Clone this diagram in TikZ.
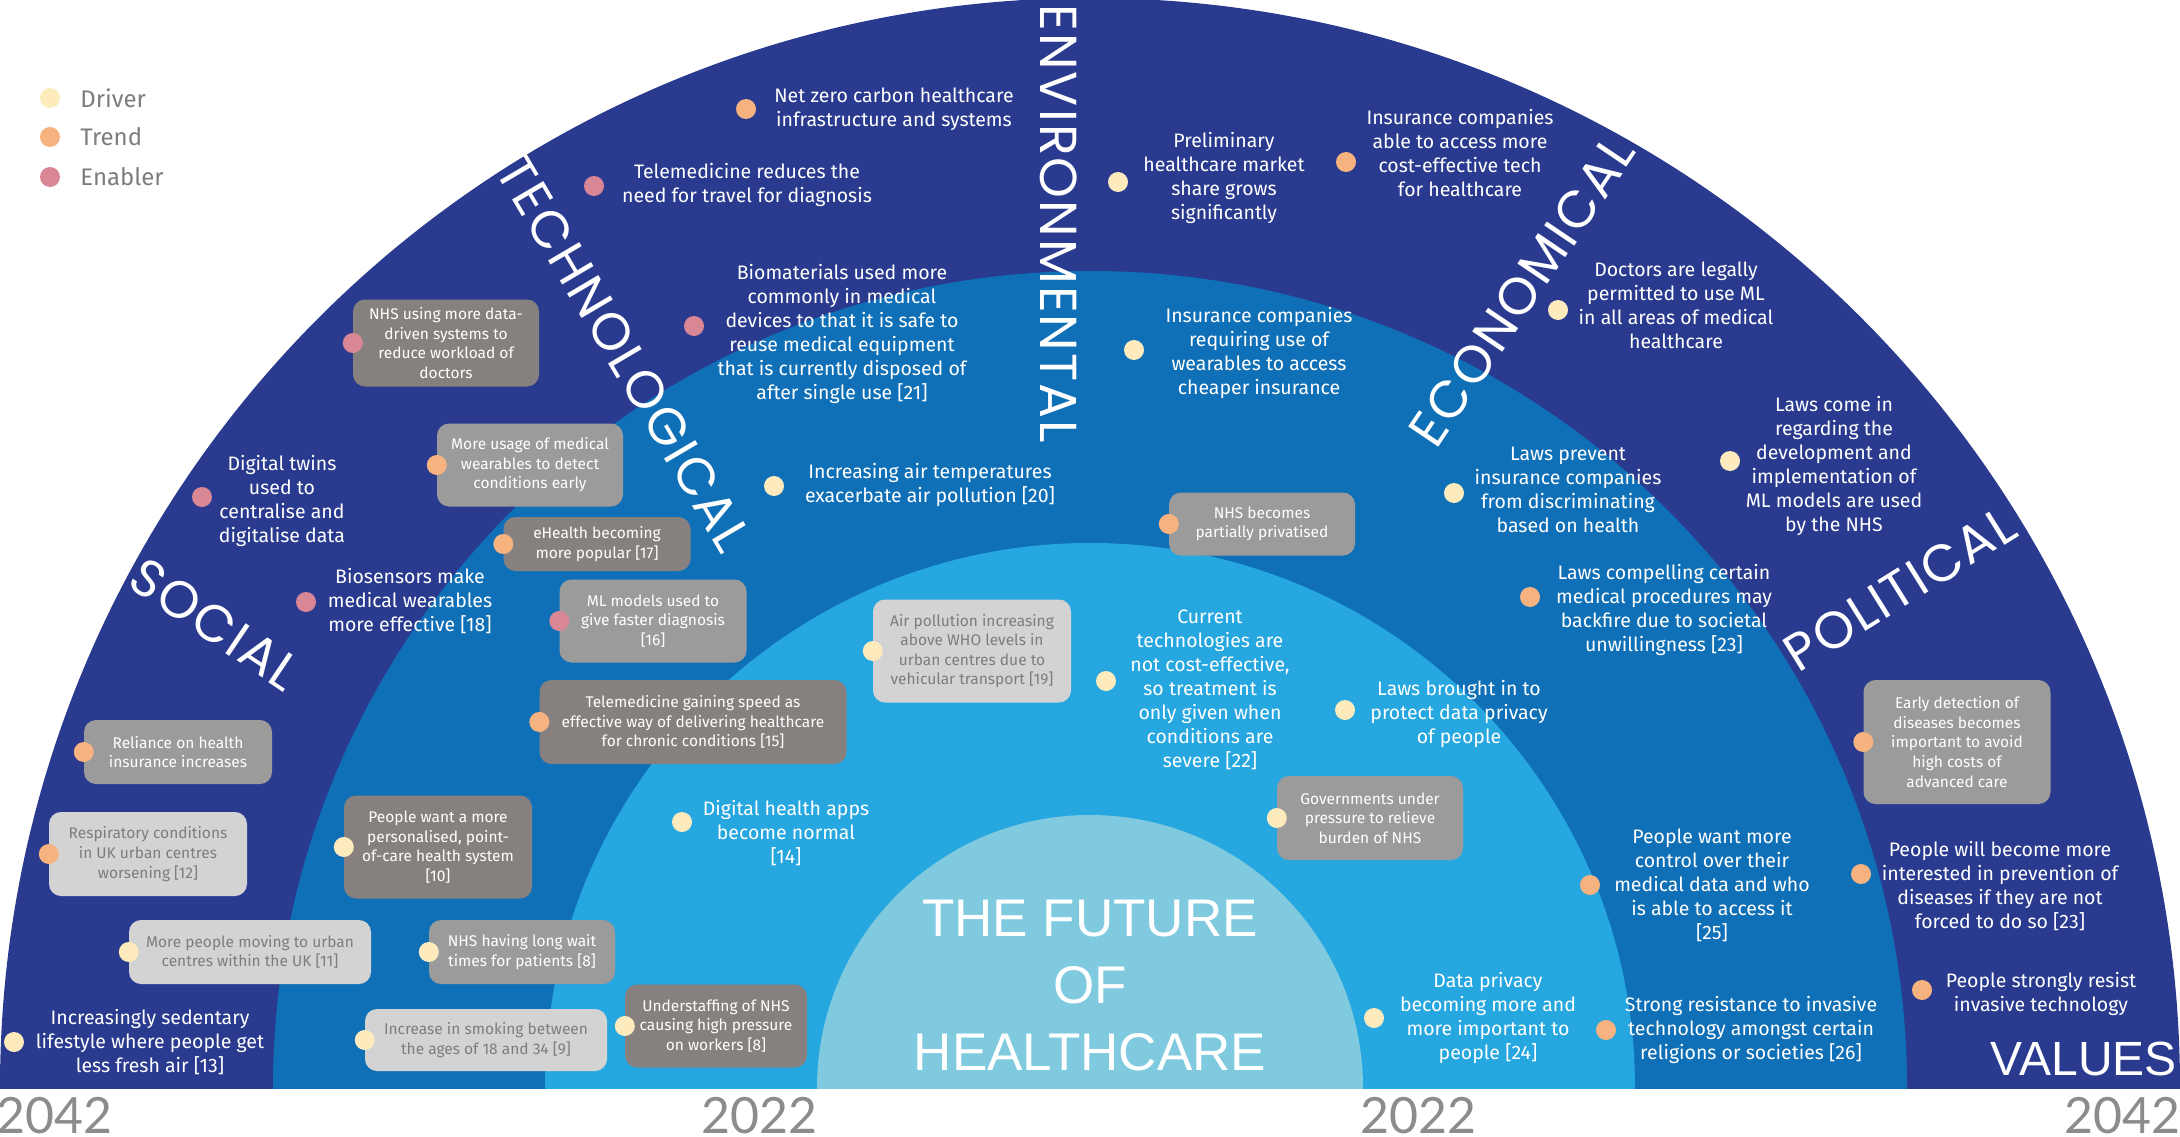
\documentclass[tikz,border=0pt]{standalone}
\usepackage{fontspec}
\setmainfont{Fira Sans}
\newfontfamily\headfont[LetterSpace=4]{Poppins}
\newfontfamily\bigfont{Liberation Sans}
\newfontfamily\yearfont{Lato}
\usetikzlibrary{positioning}
\definecolor{navy}{HTML}{2A3B8F}
\definecolor{midblue}{HTML}{1070B7}
\definecolor{skyblue}{HTML}{26A7DF}
\definecolor{paleblue}{HTML}{80CAE0}
\definecolor{drivercol}{HTML}{FDEBBE}
\definecolor{trendcol}{HTML}{F6B27F}
\definecolor{enablercol}{HTML}{DA8795}
\definecolor{boxdark}{HTML}{86817F}
\definecolor{boxmid}{HTML}{9C9B9B}
\definecolor{boxlight}{HTML}{D3D3D3}
\definecolor{muted}{HTML}{7D7D7D}
\definecolor{yeargrey}{HTML}{8C8C8C}

\begin{document}
\begin{tikzpicture}[x=1pt, y=-1pt,
    dot/.style={circle, inner sep=0pt, minimum size=20pt},
    driver/.style={dot, fill=drivercol},
    trend/.style={dot, fill=trendcol},
    enabler/.style={dot, fill=enablercol},
    txt/.style={text=white, align=center, inner sep=0pt, font=\fontsize{19.5}{24}\selectfont},
    card/.style={rounded corners=12pt, align=center, inner sep=0pt, font=\fontsize{15.5}{19.6}\selectfont},
    darkcard/.style={card, fill=boxdark, text=white},
    midcard/.style={card, fill=boxmid, text=white},
    lightcard/.style={card, fill=boxlight, text=muted},
    sector/.style={text=white, inner sep=0pt, font=\headfont\fontsize{52}{52}\selectfont},
    year/.style={text=yeargrey, inner sep=0pt, font=\yearfont\fontsize{50}{50}\selectfont}]
  \useasboundingbox (0,0) rectangle (2180,1137);

  % rings, outer to inner
  \begin{scope}
    \clip (0,0) rectangle (2180,1088);
    \fill[navy]     (1090,1088) circle[radius=1090pt];
    \fill[midblue]  (1090,1088) circle[radius=817pt];
    \fill[skyblue]  (1090,1088) circle[radius=545pt];
    \fill[paleblue] (1090,1088) circle[radius=273pt];
  \end{scope}

  % legend
  \node[driver]  (lg1) at (50,98)  {};
  \node[trend]   (lg2) at (50,137) {};
  \node[enabler] (lg3) at (50,177) {};
  \node[right=20pt of lg1, inner sep=0pt, text=muted, font=\fontsize{24}{24}\selectfont] (lgt1) {Driver};
  \node[right=20pt of lg2, inner sep=0pt, text=muted, font=\fontsize{24}{24}\selectfont] (lgt2) {Trend};
  \node[right=20pt of lg3, inner sep=0pt, text=muted, font=\fontsize{24}{24}\selectfont] (lgt3) {Enabler};

  % sector names
  \node[sector, rotate=-34]   (social)  at (215,624)  {SOCIAL};
  \node[sector, rotate=-59.5] (techno)  at (624,354)  {TECHNOLOGICAL};
  \node[sector, rotate=-90]   (enviro)  at (1059,224) {ENVIRONMENTAL};
  \node[sector, rotate=56]    (econ)    at (1522,291) {ECONOMICAL};
  \node[sector, rotate=32]    (politic) at (1900,589) {POLITICAL};
  \node[text=white, inner sep=0pt, anchor=east, font=\bigfont\fontsize{48}{48}\selectfont] (values) at (2177,1059) {VALUES};

  \node[text=white, align=center, inner sep=0pt, font=\bigfont\fontsize{53}{67}\selectfont] (title) at (1090,986) {THE FUTURE\\OF\\HEALTHCARE};

  % years
  \node[year] (y1) at (55,1116)   {2042};
  \node[year] (y2) at (759,1116)  {2022};
  \node[year] (y3) at (1418,1116) {2022};
  \node[year] (y4) at (2122,1116) {2042};

  % free text items
  \node[txt] (netzero) at (894,109) {Net zero carbon healthcare\\infrastructure and systems};
  \node[trend] (d-netzero) at (746,109) {};
  \node[txt] (telered) at (747,185) {Telemedicine reduces the\\need for travel for diagnosis};
  \node[enabler] (d-telered) at (594,186) {};
  \node[txt] (biomat) at (842,334) {Biomaterials used more\\commonly in medical\\devices to that it is safe to\\reuse medical equipment\\that is currently disposed of\\after single use [21]};
  \node[enabler] (d-biomat) at (694,326) {};
  \node[txt] (twins) at (282,501) {Digital twins\\used to\\centralise and\\digitalise data};
  \node[enabler] (d-twins) at (202,497) {};
  \node[txt] (biosens) at (410,601) {Biosensors make\\medical wearables\\more effective [18]};
  \node[enabler] (d-biosens) at (306,602) {};
  \node[txt] (airtemp) at (930,485) {Increasing air temperatures\\exacerbate air pollution [20]};
  \node[driver] (d-airtemp) at (774,486) {};
  \node[txt] (apps) at (786,833) {Digital health apps\\become normal\\{}[14]};
  \node[driver] (d-apps) at (682,822) {};
  \node[txt] (sedent) at (150,1042) {Increasingly sedentary\\lifestyle where people get\\less fresh air [13]};
  \node[driver] (d-sedent) at (14,1042) {};
  \node[txt] (prelim) at (1224,178) {Preliminary\\healthcare market\\share grows\\significantly};
  \node[driver] (d-prelim) at (1118,182) {};
  \node[txt] (insable) at (1460,153) {Insurance companies\\able to access more\\cost-effective tech\\for healthcare};
  \node[trend] (d-insable) at (1346,162) {};
  \node[txt] (insreq) at (1259,353) {Insurance companies\\requiring use of\\wearables to access\\cheaper insurance};
  \node[driver] (d-insreq) at (1134,350) {};
  \node[txt] (doctors) at (1676,305) {Doctors are legally\\permitted to use ML\\in all areas of medical\\healthcare};
  \node[driver] (d-doctors) at (1558,310) {};
  \node[txt] (lawsprev) at (1568,490) {Laws prevent\\insurance companies\\from discriminating\\based on health};
  \node[driver] (d-lawsprev) at (1454,493) {};
  \node[txt] (lawsml) at (1834,466) {Laws come in\\regarding the\\development and\\implementation of\\ML models are used\\by the NHS};
  \node[driver] (d-lawsml) at (1730,461) {};
  \node[txt] (lawscomp) at (1664,610) {Laws compelling certain\\medical procedures may\\backfire due to societal\\unwillingness [23]};
  \node[trend] (d-lawscomp) at (1530,597) {};
  \node[txt] (current) at (1210,690) {Current\\technologies are\\not cost-effective,\\so treatment is\\only given when\\conditions are\\severe [22]};
  \node[driver] (d-current) at (1106,681) {};
  \node[txt] (lawsdata) at (1459,714) {Laws brought in to\\protect data privacy\\of people};
  \node[driver] (d-lawsdata) at (1345,710) {};
  \node[txt] (privacy) at (1488,1018) {Data privacy\\becoming more and\\more important to\\people [24]};
  \node[driver] (d-privacy) at (1374,1018) {};
  \node[txt] (control) at (1712,885) {People want more\\control over their\\medical data and who\\is able to access it\\{}[25]};
  \node[trend] (d-control) at (1590,885) {};
  \node[txt] (resist) at (1751,1030) {Strong resistance to invasive\\technology amongst certain\\religions or societies [26]};
  \node[trend] (d-resist) at (1606,1030) {};
  \node[txt] (prevent) at (2000,886) {People will become more\\interested in prevention of\\diseases if they are not\\forced to do so [23]};
  \node[trend] (d-prevent) at (1861,874) {};
  \node[txt] (strong) at (2041,994) {People strongly resist\\invasive technology};
  \node[trend] (d-strong) at (1922,990) {};

  % boxed items
  \node[darkcard, minimum width=186, minimum height=87] (nhsdata) at (446,343) {NHS using more data-\\driven systems to\\reduce workload of\\doctors};
  \node[enabler] (d-nhsdata) at (nhsdata.west) {};
  \node[midcard, minimum width=186, minimum height=83] (usage) at (530,465) {More usage of medical\\wearables to detect\\conditions early};
  \node[trend] (d-usage) at (usage.west) {};
  \node[darkcard, minimum width=187, minimum height=54] (ehealth) at (597,544) {eHealth becoming\\more popular [17]};
  \node[trend] (d-ehealth) at (ehealth.west) {};
  \node[midcard, minimum width=187, minimum height=83] (mlmodels) at (653,621) {ML models used to\\give faster diagnosis\\{}[16]};
  \node[enabler] (d-mlmodels) at (mlmodels.west) {};
  \node[darkcard, minimum width=307, minimum height=84] (telegain) at (693,722) {Telemedicine gaining speed as\\effective way of delivering healthcare\\for chronic conditions [15]};
  \node[trend] (d-telegain) at (telegain.west) {};
  \node[midcard, minimum width=188, minimum height=64] (reliance) at (178,752) {Reliance on health\\insurance increases};
  \node[trend] (d-reliance) at (reliance.west) {};
  \node[lightcard, minimum width=198, minimum height=84] (resp) at (148,854) {Respiratory conditions\\in UK urban centres\\worsening [12]};
  \node[trend] (d-resp) at (resp.west) {};
  \node[darkcard, minimum width=188, minimum height=103] (personal) at (438,847) {People want a more\\personalised, point-\\of-care health system\\{}[10]};
  \node[driver] (d-personal) at (personal.west) {};
  \node[lightcard, minimum width=242, minimum height=64] (urban) at (250,952) {More people moving to urban\\centres within the UK [11]};
  \node[driver] (d-urban) at (urban.west) {};
  \node[midcard, minimum width=186, minimum height=64] (wait) at (522,952) {NHS having long wait\\times for patients [8]};
  \node[driver] (d-wait) at (wait.west) {};
  \node[lightcard, minimum width=242, minimum height=62] (smoking) at (486,1040) {Increase in smoking between\\the ages of 18 and 34 [9]};
  \node[driver] (d-smoking) at (smoking.west) {};
  \node[darkcard, minimum width=182, minimum height=83] (staff) at (716,1026) {Understaffing of NHS\\causing high pressure\\on workers [8]};
  \node[driver] (d-staff) at (staff.west) {};
  \node[lightcard, minimum width=198, minimum height=103] (airpol) at (972,651) {Air pollution increasing\\above WHO levels in\\urban centres due to\\vehicular transport [19]};
  \node[driver] (d-airpol) at (airpol.west) {};
  \node[midcard, minimum width=186, minimum height=63] (privat) at (1262,524) {NHS becomes\\partially privatised};
  \node[trend] (d-privat) at (privat.west) {};
  \node[midcard, minimum width=186, minimum height=84] (govern) at (1370,818) {Governments under\\pressure to relieve\\burden of NHS};
  \node[driver] (d-govern) at (govern.west) {};
  \node[midcard, minimum width=187, minimum height=124] (early) at (1957,742) {Early detection of\\diseases becomes\\important to avoid\\high costs of\\advanced care};
  \node[trend] (d-early) at (early.west) {};
\end{tikzpicture}
\end{document}
